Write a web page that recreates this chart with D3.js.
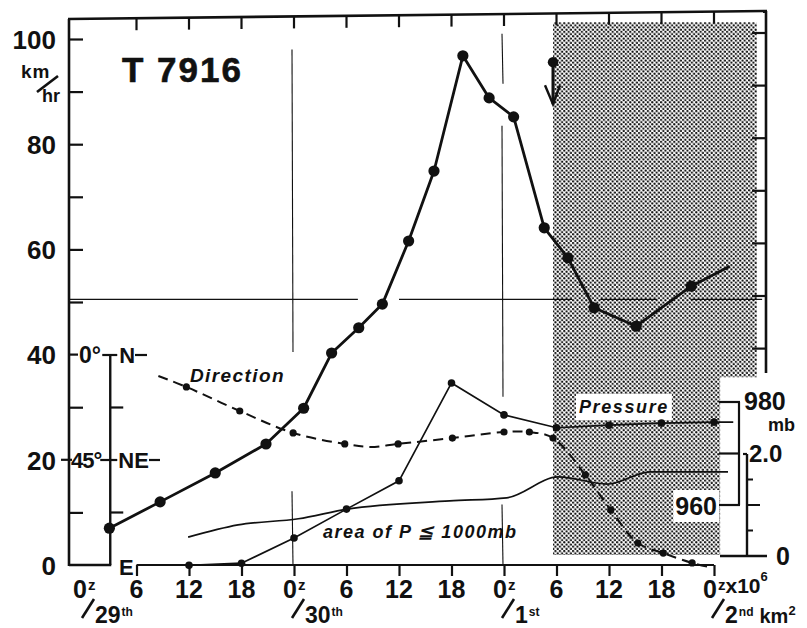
<!DOCTYPE html>
<html>
<head>
<meta charset="utf-8">
<script src="https://cdn.jsdelivr.net/npm/d3@7/dist/d3.min.js"></script>
<style>
  body { margin: 0; background: #fff; }
  svg { display: block; }
  text { font-family: "Liberation Sans", Arial, sans-serif; font-weight: bold; fill: #111; }
</style>
</head>
<body>
<svg id="chart" width="807" height="628"></svg>
<script>
// Typhoon T7916 — time axis in hours counted from 00Z on the 29th.
const hourTicks = d3.range(6, 73, 6);
const hourLabels = ["6", "12", "18", "0", "6", "12", "18", "0", "6", "12", "18", "0"];
const dayHours = [0, 24, 48, 72];
const dayNumbers = ["29", "30", "1", "2"];
const daySuffixes = ["th", "th", "st", "nd"];

// Left axis: wind speed (km/hr)
const speedTicks = [0, 20, 40, 60, 80, 100];
const speedMinorTicks = [10, 30, 50, 60, 70, 80, 90, 100];

// [hour, value, plotted dot (1) or line end only (0)]
const windSpeed = [
  [2.9, 7.0, 1], [8.7, 12.0, 1], [15.0, 17.5, 1], [20.8, 23.0, 1],
  [25.1, 29.8, 1], [28.3, 40.3, 1], [31.4, 45.1, 1], [34.1, 49.6, 1],
  [37.1, 61.6, 1], [40.0, 74.9, 1], [43.3, 96.8, 1], [46.3, 88.8, 1],
  [49.1, 85.2, 1], [52.6, 64.1, 1], [55.3, 58.4, 1], [58.3, 48.9, 1],
  [63.1, 45.4, 1], [69.4, 53.0, 1], [73.8, 56.8, 0]
];

// Direction of motion, degrees from north (0° = N, 45° = NE, 90° = E)
const direction = [
  [8.5, 9.0, 0], [11.7, 13.7, 1], [17.8, 24.0, 1], [23.9, 33.4, 1],
  [29.8, 38.1, 1], [32.7, 39.4, 0], [35.9, 38.1, 1], [42.1, 35.6, 1],
  [48.0, 33.0, 1], [50.9, 33.0, 1], [53.6, 35.6, 1], [57.3, 51.4, 1],
  [60.2, 66.4, 1], [63.3, 80.6, 1], [66.2, 84.9, 1], [69.5, 89.1, 1],
  [71.5, 90.9, 0]
];
const directionTicks = [22.5, 67.5];

// Pressure (mb)
const pressure = [
  [12, 948.3, 1], [18, 948.7, 1], [24, 953.6, 1], [30, 959.2, 1],
  [36, 964.7, 1], [42, 983.7, 1], [48, 977.5, 1], [54, 975.0, 1],
  [60, 975.5, 1], [66, 975.9, 1], [72, 976.1, 1], [74.2, 976.1, 0]
];
const pressureTicks = [960, 970, 980];

// Area of P <= 1000 mb (x10^6 km^2)
const area = [
  [11.9, 0.37], [17.6, 0.61], [24.5, 0.73], [30.1, 0.92], [41.8, 1.08],
  [48.3, 1.14], [54.2, 1.55], [59.8, 1.41], [64.7, 1.65], [73.6, 1.65]
];
const areaTicks = [0.5, 1.0, 1.5];

// Isolated reading with downward arrow
const noteHour = 53.6;
const noteSpeed = [95.6, 87.6];

// Shaded period (hours) and its vertical extent (km/hr units)
const shadeHours = [53.6, 76.9, 72.7];
const shadeSpeeds = [103.2, 35.7, 1.9];

// Reference grid pieces
const gridHours = [24, 48];
const gridSegments = [
  [[98, 40.5], [14, 0]],
  [[101, 91.5], [83.5, 32], [11.5, 0]]
];
const refSpeed = 50.5;
const refSegments = [[-1.6, 31.3], [36, 55.8], [59, 65.5], [69.3, 77.5]];

const svg = d3.select("#chart");

const x = d3.scaleLinear().domain([0, 72]).range([84, 714]);
const ySpeed = d3.scaleLinear().domain([0, 100]).range([565, 39]);
const yDir = d3.scaleLinear().domain([0, 90]).range([355, 565]);
const yPres = d3.scaleLinear().domain([960, 980]).range([505, 402]);
const yArea = d3.scaleLinear().domain([0, 2]).range([556, 454]);

const frameLeft = 69, frameRight = 766, frameTopL = 19, frameTopR = 11;
const ink = "#111";

// Dot-screen tone
const defs = svg.append("defs");
const pat = defs.append("pattern")
  .attr("id", "screen").attr("patternUnits", "userSpaceOnUse")
  .attr("width", 4.4).attr("height", 4.4);
pat.append("circle").attr("cx", 1.1).attr("cy", 1.1).attr("r", 1.15).attr("fill", ink);
pat.append("circle").attr("cx", 3.3).attr("cy", 3.3).attr("r", 1.15).attr("fill", ink);

svg.append("path")
  .attr("d", `M${x(shadeHours[0])},${ySpeed(shadeSpeeds[0])}
              H${x(shadeHours[1])} V${ySpeed(shadeSpeeds[1])}
              H${x(shadeHours[2])} V${ySpeed(shadeSpeeds[2])}
              H${x(shadeHours[0])} Z`)
  .attr("fill", "url(#screen)");

// White boxes behind labels that sit over the tone
const knockouts = svg.append("g");

const line = (g, x1, y1, x2, y2, w) => g.append("line")
  .attr("x1", x1).attr("y1", y1).attr("x2", x2).attr("y2", y2)
  .attr("stroke", ink).attr("stroke-width", w);

// Frame
const frame = svg.append("g");
line(frame, frameLeft, frameTopL, frameLeft, ySpeed(0) + 1, 2.6);
line(frame, frameLeft - 1, frameTopL, frameRight + 1, frameTopR, 2.6);
line(frame, frameRight, frameTopR, frameRight, 373, 2.6);

// Top ticks
hourTicks.forEach(h => {
  const t = frameTopL + (frameTopR - frameTopL) * (x(h) - frameLeft) / (frameRight - frameLeft);
  line(frame, x(h), t, x(h), t + 12, 2.2);
});

// Right frame ticks
d3.range(40, 101, 10).forEach(v => line(frame, frameRight, ySpeed(v) - 6, frameRight - 14, ySpeed(v) - 6, 2.2));

// Left frame ticks via axis generator (inward)
const leftTicks = svg.append("g").attr("transform", `translate(${frameLeft},0)`)
  .call(d3.axisRight(ySpeed).tickValues(speedMinorTicks).tickSize(14).tickFormat(""));
leftTicks.select(".domain").remove();
leftTicks.selectAll("line").attr("stroke", ink).attr("stroke-width", 2.2);
line(frame, frameLeft, ySpeed(40), frameLeft + 9, ySpeed(40), 2.2);
line(frame, frameLeft - 8, ySpeed(20), frameLeft + 3, ySpeed(20), 2.2);

// Left axis labels
const leftLabels = svg.append("g").attr("transform", `translate(${frameLeft},0)`)
  .call(d3.axisLeft(ySpeed).tickValues(speedTicks).tickSize(0).tickPadding(13).tickFormat(d3.format("d")));
leftLabels.select(".domain").remove();
leftLabels.selectAll("text")
  .attr("font-size", 26).attr("font-family", "Liberation Sans, Arial, sans-serif")
  .attr("font-weight", "bold").attr("fill", ink).attr("dy", "0.36em");

// Unit
svg.append("text").attr("x", 21).attr("y", 78).attr("font-size", 19).attr("letter-spacing", 1).text("km");
line(svg, 37, 92, 58, 76, 2.6);
svg.append("text").attr("x", 42).attr("y", 102).attr("font-size", 18).text("hr");

// Title
svg.append("text").attr("x", 122).attr("y", 82).attr("font-size", 35)
  .attr("font-weight", "normal").attr("stroke", ink).attr("stroke-width", 0.6)
  .attr("letter-spacing", 2).text("T 7916");

// Grid lines
const grid = svg.append("g");
gridHours.forEach((h, i) => {
  gridSegments[i].forEach(([a, b]) => line(grid, x(h) - 2, ySpeed(a), x(h) - 1, ySpeed(b), 1.1));
});
refSegments.forEach(([a, b]) => line(grid, x(a), ySpeed(refSpeed), x(b), ySpeed(refSpeed), 1.1));

// Direction sub-axis
const dirAxisX = x(3);
const dir = svg.append("g");
line(dir, dirAxisX, yDir(0), dirAxisX, yDir(90), 2.4);
line(dir, frameLeft, yDir(90), dirAxisX + 1, yDir(90), 2.4);
directionTicks.forEach(d => line(dir, dirAxisX, yDir(d), dirAxisX + 13, yDir(d), 2.2));
line(dir, dirAxisX - 8, yDir(0), dirAxisX + 7, yDir(0), 2.2);
line(dir, dirAxisX - 10, yDir(45), dirAxisX + 7, yDir(45), 2.2);
dir.append("text").attr("x", 79).attr("y", yDir(0) + 8).attr("font-size", 23).text("0°");
dir.append("text").attr("x", dirAxisX + 9).attr("y", yDir(0) + 8).attr("font-size", 22).text("N");
line(dir, 135, yDir(0), 147, yDir(0), 2.2);
dir.append("text").attr("x", 71).attr("y", yDir(45) + 8).attr("font-size", 22).attr("letter-spacing", -1).text("45°");
dir.append("text").attr("x", dirAxisX + 8).attr("y", yDir(45) + 8).attr("font-size", 22).text("NE");
line(dir, 149, yDir(45), 160, yDir(45), 2.2);
dir.append("text").attr("x", 119).attr("y", yDir(90) + 10).attr("font-size", 22).text("E");

// Bottom axis
const bottom = svg.append("g").attr("transform", `translate(0,${ySpeed(0)})`)
  .call(d3.axisBottom(x).tickValues(hourTicks).tickSize(11).tickFormat(""));
bottom.select(".domain").attr("d", `M${x(6)},0H${x(72)}`).attr("stroke", ink).attr("stroke-width", 2.2);
bottom.selectAll(".tick line").attr("stroke", ink).attr("stroke-width", 2.2);

const xl = svg.append("g");
const labelBase = 598;
hourTicks.forEach((h, i) => {
  if (dayHours.includes(h)) return;
  xl.append("text").attr("x", x(h)).attr("y", labelBase).attr("text-anchor", "middle")
    .attr("font-size", 25).text(hourLabels[i]);
});
dayHours.forEach((h, i) => {
  const cx = x(h);
  xl.append("text").attr("x", cx + 3).attr("y", labelBase).attr("text-anchor", "end")
    .attr("font-size", 25).text("0");
  const sup = xl.append("text").attr("x", cx + 4).attr("y", labelBase - 8).attr("font-size", 15).text("z");
  if (i === dayHours.length - 1) {
    sup.append("tspan").attr("dy", 3).attr("font-size", 21).text("x10");
    sup.append("tspan").attr("dy", -12).attr("font-size", 13).text("6");
  }
  line(xl, cx - 2, 618, cx + 10, 599, 2.6);
  const day = xl.append("text").attr("x", cx + 11).attr("y", 623).attr("font-size", 23).text(dayNumbers[i]);
  day.append("tspan").attr("dy", -7).attr("dx", 1).attr("font-size", 12).text(daySuffixes[i]);
  if (i === dayHours.length - 1) {
    day.append("tspan").attr("dy", 7).attr("dx", 6).attr("font-size", 20).text("km");
    day.append("tspan").attr("dy", -8).attr("font-size", 13).text("2");
  }
});

// Right-hand scales: pressure bracket and area axis
const right = svg.append("g");
const presX = 739;
line(right, presX, yPres(980), presX, yPres(960), 2.2);
pressureTicks.forEach(p => line(right, presX - 20, yPres(p), presX + 1, yPres(p), 2.2));
const areaX = 747;
line(right, areaX, yArea(2), areaX, yArea(0), 2.4);
line(right, areaX - 4, yArea(2), areaX, yArea(2), 2.2);
areaTicks.forEach(a => line(right, areaX, yArea(a), areaX + (a === 1 ? 13 : 6), yArea(a), 2));
line(right, 720, yArea(0), frameRight + 1, yArea(0), 2.4);
right.append("text").attr("x", 744).attr("y", yPres(980) + 8).attr("font-size", 25).text("980");
right.append("text").attr("x", 768).attr("y", yPres(980) + 29).attr("font-size", 18).text("mb");
right.append("text").attr("x", 749).attr("y", yArea(2) + 8).attr("font-size", 24).text("2.0");
right.append("text").attr("x", 776).attr("y", yArea(0) + 9).attr("font-size", 25).text("0");
const label960 = right.append("text").attr("x", 717).attr("y", yPres(960) + 10)
  .attr("text-anchor", "end").attr("font-size", 25).text("960");

// Series lines
const lineGen = (ys, curve) => d3.line().x(d => x(d[0])).y(d => ys(d[1])).curve(curve);

const series = svg.append("g");
series.append("path").datum(area)
  .attr("d", lineGen(yArea, d3.curveMonotoneX))
  .attr("fill", "none").attr("stroke", ink).attr("stroke-width", 1.7);

series.append("path").datum(pressure)
  .attr("d", lineGen(yPres, d3.curveLinear))
  .attr("fill", "none").attr("stroke", ink).attr("stroke-width", 1.7);
series.selectAll(".pdot").data(pressure.filter(d => d[2])).join("circle")
  .attr("cx", d => x(d[0])).attr("cy", d => yPres(d[1])).attr("r", 3.8).attr("fill", ink);

series.append("path").datum(direction)
  .attr("d", lineGen(yDir, d3.curveCatmullRom.alpha(0.5)))
  .attr("fill", "none").attr("stroke", ink).attr("stroke-width", 2)
  .attr("stroke-dasharray", "10,6");
series.selectAll(".ddot").data(direction.filter(d => d[2])).join("circle")
  .attr("cx", d => x(d[0])).attr("cy", d => yDir(d[1])).attr("r", 3.6).attr("fill", ink);

series.append("path").datum(windSpeed)
  .attr("d", lineGen(ySpeed, d3.curveLinear))
  .attr("fill", "none").attr("stroke", ink).attr("stroke-width", 2.8).attr("stroke-linejoin", "round");
series.selectAll(".wdot").data(windSpeed.filter(d => d[2])).join("circle")
  .attr("cx", d => x(d[0])).attr("cy", d => ySpeed(d[1])).attr("r", 5.6).attr("fill", ink);

// Arrow note
const nx = x(noteHour), ny0 = ySpeed(noteSpeed[0]), ny1 = ySpeed(noteSpeed[1]);
series.append("circle").attr("cx", nx).attr("cy", ny0).attr("r", 5.2).attr("fill", ink);
line(series, nx, ny0, nx, ny1, 3);
series.append("path").attr("d", `M${nx - 8},${ny1 - 19}L${nx},${ny1}L${nx + 7},${ny1 - 19}`)
  .attr("fill", "none").attr("stroke", ink).attr("stroke-width", 2.4);

// Series labels
const labels = svg.append("g");
labels.append("text").attr("x", 190).attr("y", 382).attr("font-size", 19)
  .attr("font-style", "italic").attr("letter-spacing", 1.4).text("Direction");
const presLabel = labels.append("text").attr("x", 579).attr("y", 413).attr("font-size", 18)
  .attr("font-style", "italic").attr("letter-spacing", 1.6).text("Pressure");
labels.append("text").attr("x", 323).attr("y", 538).attr("font-size", 18)
  .attr("font-style", "italic").attr("letter-spacing", 1.5).text("area of P ≦ 1000mb");

[[presLabel, 3], [label960, 2]].forEach(([t, pad]) => {
  const b = t.node().getBBox();
  knockouts.append("rect")
    .attr("x", b.x - pad).attr("y", b.y - pad)
    .attr("width", b.width + 2 * pad).attr("height", b.height + 2 * pad)
    .attr("fill", "#fff");
});
</script>
</body>
</html>
